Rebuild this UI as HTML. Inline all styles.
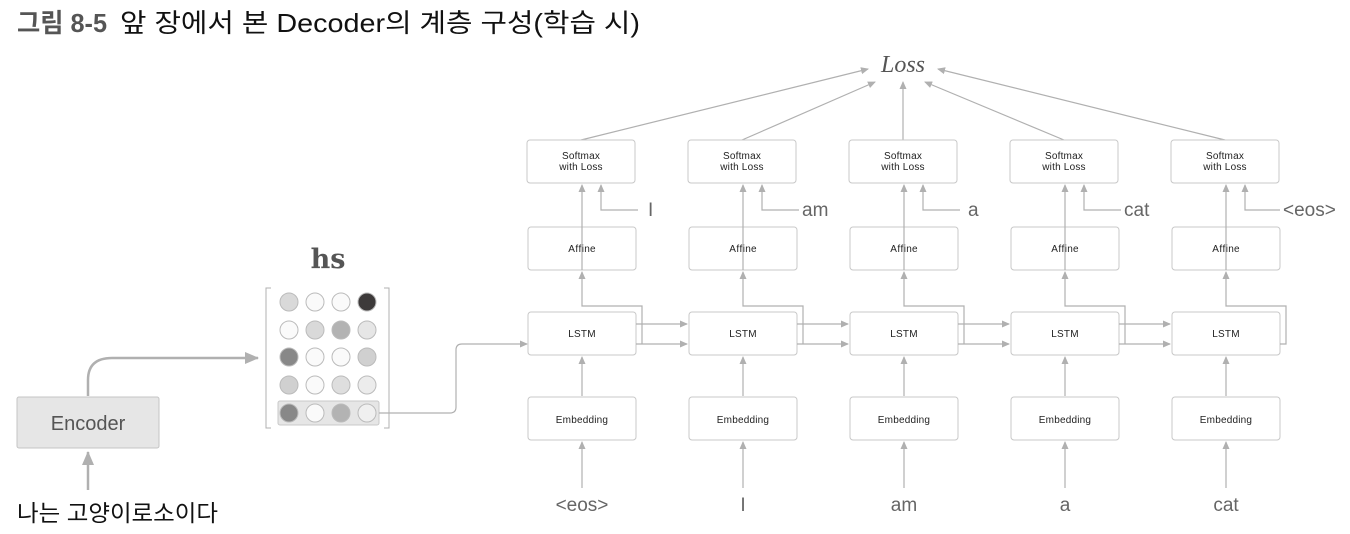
<!DOCTYPE html>
<html><head><meta charset="utf-8"><style>
body{margin:0;background:#fff;width:1350px;height:534px;overflow:hidden}
svg{display:block}
text{font-variant-ligatures:none;font-feature-settings:"liga" 0}
.b{fill:#fff;stroke:#c8c8c8;stroke-width:1}
.t{font-family:"Liberation Sans","Noto Sans CJK KR",sans-serif;font-size:10px;fill:#222;text-anchor:middle;letter-spacing:0.2px}
.l{stroke:#b0b0b0;stroke-width:1.2;fill:none}
.w{font-family:"Liberation Sans",sans-serif;font-size:19px;fill:#666}
</style></head><body>
<svg width="1350" height="534" viewBox="0 0 1350 534">
<defs><marker id="a" markerWidth="8" markerHeight="8" refX="7" refY="4" orient="auto" markerUnits="userSpaceOnUse"><path d="M0,0.5 L8,4 L0,7.5z" fill="#b0b0b0"/></marker>
<marker id="A" markerWidth="14" markerHeight="12" refX="13" refY="6" orient="auto" markerUnits="userSpaceOnUse"><path d="M0,0 L14,6 L0,12z" fill="#b0b0b0"/></marker></defs>
<text x="17" y="32" textLength="90" lengthAdjust="spacingAndGlyphs" style="font-family:'Liberation Sans','Noto Sans CJK KR',sans-serif;font-size:26px;font-weight:bold;fill:#555">그림 8-5</text>
<text x="120" y="32" textLength="520" lengthAdjust="spacingAndGlyphs" style="font-family:'Liberation Sans','Noto Sans CJK KR',sans-serif;font-size:26px;fill:#111">앞 장에서 본 Decoder의 계층 구성(학습 시)</text>
<text x="903" y="72" style="font-family:'Liberation Serif','DejaVu Serif',serif;font-style:italic;font-size:24px;fill:#555" text-anchor="middle">Loss</text>
<line class="l" x1="581" y1="140" x2="868" y2="69" marker-end="url(#a)"/>
<line class="l" x1="742" y1="140" x2="875" y2="82" marker-end="url(#a)"/>
<line class="l" x1="903" y1="140" x2="903" y2="82" marker-end="url(#a)"/>
<line class="l" x1="1064" y1="140" x2="925" y2="82" marker-end="url(#a)"/>
<line class="l" x1="1225" y1="140" x2="938" y2="69" marker-end="url(#a)"/>

<rect x="17" y="397" width="142" height="51" rx="2" fill="#e6e6e6" stroke="#c4c4c4"/>
<text x="88" y="430" text-anchor="middle" style="font-family:'Liberation Sans',sans-serif;font-size:20px;fill:#555">Encoder</text>
<path d="M88,490 V452" stroke="#b0b0b0" stroke-width="2.5" fill="none" marker-end="url(#A)"/>
<path d="M88,396 V380 Q88,358 112,358 H258" stroke="#b0b0b0" stroke-width="2.5" fill="none" marker-end="url(#A)"/>
<text x="17" y="521" textLength="201" lengthAdjust="spacingAndGlyphs" style="font-family:'Liberation Sans','Noto Sans CJK KR',sans-serif;font-size:23px;fill:#111">나는 고양이로소이다</text>
<text x="328" y="268" text-anchor="middle" style="font-family:'DejaVu Serif','Liberation Serif',serif;font-weight:bold;font-size:27px;fill:#555">hs</text>
<path d="M271,288 H266 V428 H271 M384,288 H389 V428 H384" stroke="#b0b0b0" fill="none"/>
<rect x="278" y="401" width="101" height="24" rx="2" fill="#e6e6e6" stroke="#c8c8c8"/>
<g stroke="#bbb" stroke-width="1">
<circle cx="289" cy="302" r="9" fill="#d9d9d9"/><circle cx="315" cy="302" r="9" fill="#fafafa"/><circle cx="341" cy="302" r="9" fill="#fafafa"/><circle cx="367" cy="302" r="9" fill="#3d3a3a"/>
<circle cx="289" cy="330" r="9" fill="#fafafa"/><circle cx="315" cy="330" r="9" fill="#d9d9d9"/><circle cx="341" cy="330" r="9" fill="#b3b3b3"/><circle cx="367" cy="330" r="9" fill="#e6e6e6"/>
<circle cx="289" cy="357" r="9" fill="#888"/><circle cx="315" cy="357" r="9" fill="#fafafa"/><circle cx="341" cy="357" r="9" fill="#fafafa"/><circle cx="367" cy="357" r="9" fill="#d0d0d0"/>
<circle cx="289" cy="385" r="9" fill="#d0d0d0"/><circle cx="315" cy="385" r="9" fill="#fafafa"/><circle cx="341" cy="385" r="9" fill="#dedede"/><circle cx="367" cy="385" r="9" fill="#ececec"/>
<circle cx="289" cy="413" r="9" fill="#888"/><circle cx="315" cy="413" r="9" fill="#fafafa"/><circle cx="341" cy="413" r="9" fill="#b3b3b3"/><circle cx="367" cy="413" r="9" fill="#f0f0f0"/>
</g>
<path class="l" d="M379,413 H450 Q456,413 456,407 V350 Q456,344 462,344 H527" marker-end="url(#a)"/>

<g transform="translate(528,0)">
<rect class="b" x="-1" y="140" width="108" height="43" rx="3"/><text class="t" x="53" y="159">Softmax</text><text class="t" x="53" y="170">with Loss</text>
<rect class="b" x="0" y="227" width="108" height="43" rx="3"/><text class="t" x="54" y="252">A<tspan dx="0.3">f</tspan><tspan dx="0.3">f</tspan><tspan dx="0.3">ine</tspan></text>
<rect class="b" x="0" y="312" width="108" height="43" rx="3"/><text class="t" x="54" y="337">LSTM</text>
<rect class="b" x="0" y="397" width="108" height="43" rx="3"/><text class="t" x="54" y="423">Embedding</text>
<path class="l" d="M54,270 V185" marker-end="url(#a)"/>
<path class="l" d="M110,210 H73 V185" marker-end="url(#a)"/>
<path class="l" d="M54,396 V357" marker-end="url(#a)"/>
<path class="l" d="M54,488 V442" marker-end="url(#a)"/>
<path class="l" d="M114,344 V306 H54 V272" marker-end="url(#a)"/>
<path class="l" d="M108,324 H159" marker-end="url(#a)"/><path class="l" d="M108,344 H159" marker-end="url(#a)"/>
<text class="w" x="120" y="216">I</text><text class="w" x="54" y="511" text-anchor="middle">&lt;eos&gt;</text>
</g>
<g transform="translate(689,0)">
<rect class="b" x="-1" y="140" width="108" height="43" rx="3"/><text class="t" x="53" y="159">Softmax</text><text class="t" x="53" y="170">with Loss</text>
<rect class="b" x="0" y="227" width="108" height="43" rx="3"/><text class="t" x="54" y="252">A<tspan dx="0.3">f</tspan><tspan dx="0.3">f</tspan><tspan dx="0.3">ine</tspan></text>
<rect class="b" x="0" y="312" width="108" height="43" rx="3"/><text class="t" x="54" y="337">LSTM</text>
<rect class="b" x="0" y="397" width="108" height="43" rx="3"/><text class="t" x="54" y="423">Embedding</text>
<path class="l" d="M54,270 V185" marker-end="url(#a)"/>
<path class="l" d="M110,210 H73 V185" marker-end="url(#a)"/>
<path class="l" d="M54,396 V357" marker-end="url(#a)"/>
<path class="l" d="M54,488 V442" marker-end="url(#a)"/>
<path class="l" d="M114,344 V306 H54 V272" marker-end="url(#a)"/>
<path class="l" d="M108,324 H159" marker-end="url(#a)"/><path class="l" d="M108,344 H159" marker-end="url(#a)"/>
<text class="w" x="113" y="216">am</text><text class="w" x="54" y="511" text-anchor="middle">I</text>
</g>
<g transform="translate(850,0)">
<rect class="b" x="-1" y="140" width="108" height="43" rx="3"/><text class="t" x="53" y="159">Softmax</text><text class="t" x="53" y="170">with Loss</text>
<rect class="b" x="0" y="227" width="108" height="43" rx="3"/><text class="t" x="54" y="252">A<tspan dx="0.3">f</tspan><tspan dx="0.3">f</tspan><tspan dx="0.3">ine</tspan></text>
<rect class="b" x="0" y="312" width="108" height="43" rx="3"/><text class="t" x="54" y="337">LSTM</text>
<rect class="b" x="0" y="397" width="108" height="43" rx="3"/><text class="t" x="54" y="423">Embedding</text>
<path class="l" d="M54,270 V185" marker-end="url(#a)"/>
<path class="l" d="M110,210 H73 V185" marker-end="url(#a)"/>
<path class="l" d="M54,396 V357" marker-end="url(#a)"/>
<path class="l" d="M54,488 V442" marker-end="url(#a)"/>
<path class="l" d="M114,344 V306 H54 V272" marker-end="url(#a)"/>
<path class="l" d="M108,324 H159" marker-end="url(#a)"/><path class="l" d="M108,344 H159" marker-end="url(#a)"/>
<text class="w" x="118" y="216">a</text><text class="w" x="54" y="511" text-anchor="middle">am</text>
</g>
<g transform="translate(1011,0)">
<rect class="b" x="-1" y="140" width="108" height="43" rx="3"/><text class="t" x="53" y="159">Softmax</text><text class="t" x="53" y="170">with Loss</text>
<rect class="b" x="0" y="227" width="108" height="43" rx="3"/><text class="t" x="54" y="252">A<tspan dx="0.3">f</tspan><tspan dx="0.3">f</tspan><tspan dx="0.3">ine</tspan></text>
<rect class="b" x="0" y="312" width="108" height="43" rx="3"/><text class="t" x="54" y="337">LSTM</text>
<rect class="b" x="0" y="397" width="108" height="43" rx="3"/><text class="t" x="54" y="423">Embedding</text>
<path class="l" d="M54,270 V185" marker-end="url(#a)"/>
<path class="l" d="M110,210 H73 V185" marker-end="url(#a)"/>
<path class="l" d="M54,396 V357" marker-end="url(#a)"/>
<path class="l" d="M54,488 V442" marker-end="url(#a)"/>
<path class="l" d="M114,344 V306 H54 V272" marker-end="url(#a)"/>
<path class="l" d="M108,324 H159" marker-end="url(#a)"/><path class="l" d="M108,344 H159" marker-end="url(#a)"/>
<text class="w" x="113" y="216">cat</text><text class="w" x="54" y="511" text-anchor="middle">a</text>
</g>
<g transform="translate(1172,0)">
<rect class="b" x="-1" y="140" width="108" height="43" rx="3"/><text class="t" x="53" y="159">Softmax</text><text class="t" x="53" y="170">with Loss</text>
<rect class="b" x="0" y="227" width="108" height="43" rx="3"/><text class="t" x="54" y="252">A<tspan dx="0.3">f</tspan><tspan dx="0.3">f</tspan><tspan dx="0.3">ine</tspan></text>
<rect class="b" x="0" y="312" width="108" height="43" rx="3"/><text class="t" x="54" y="337">LSTM</text>
<rect class="b" x="0" y="397" width="108" height="43" rx="3"/><text class="t" x="54" y="423">Embedding</text>
<path class="l" d="M54,270 V185" marker-end="url(#a)"/>
<path class="l" d="M108,210 H73 V185" marker-end="url(#a)"/>
<path class="l" d="M54,396 V357" marker-end="url(#a)"/>
<path class="l" d="M54,488 V442" marker-end="url(#a)"/>
<path class="l" d="M108,344 H114 V306 H54 V272" marker-end="url(#a)"/>
<text class="w" x="111" y="216">&lt;eos&gt;</text><text class="w" x="54" y="511" text-anchor="middle">cat</text>
</g>
</svg>
</body></html>
